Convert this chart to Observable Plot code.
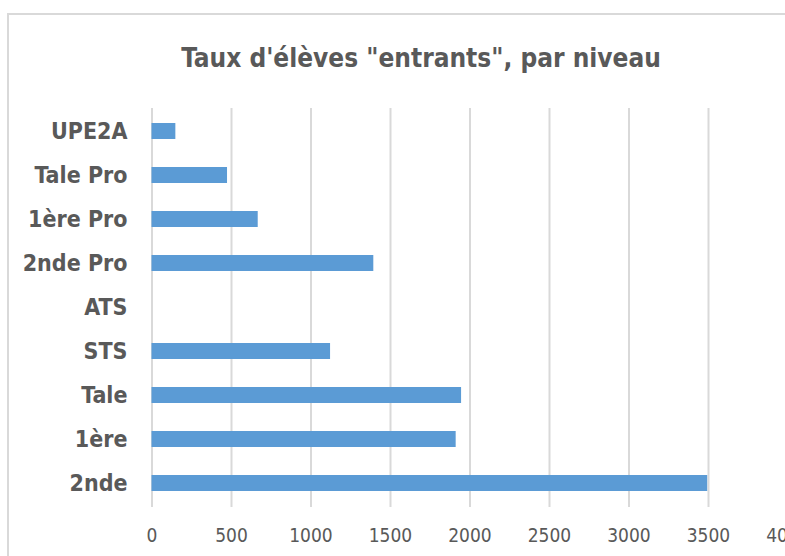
<!DOCTYPE html>
<html>
<head>
<meta charset="utf-8">
<script src="https://cdn.jsdelivr.net/npm/d3@7"></script>
<script src="https://cdn.jsdelivr.net/npm/@observablehq/plot@0.6"></script>
<style>
  html, body { margin: 0; padding: 0; background: #fff; overflow: hidden; }
  #wrap { position: relative; width: 785px; height: 556px; overflow: hidden; background: #fff; }
  #frame { position: absolute; left: 7px; top: 13px; width: 900px; height: 700px; border: 2px solid #d9d9d9; box-sizing: border-box; }
  #title { position: absolute; left: 8px; width: 826px; top: 43px; text-align: center;
           font-family: "DejaVu Sans Condensed", sans-serif; font-weight: bold;
           font-size: 26px; line-height: 1.2; color: #595959; }
  #chart { position: absolute; left: 0; top: 0; }
</style>
</head>
<body>
<div id="wrap">
  <div id="frame"></div>
  <div id="title">Taux d'élèves "entrants", par niveau</div>
  <div id="chart"></div>
</div>
<script>
const categories = ["UPE2A", "Tale Pro", "1ère Pro", "2nde Pro", "ATS", "STS", "Tale", "1ère", "2nde"];
const values = [150, 475, 668, 1395, 0, 1123, 1947, 1913, 3495];
const xTicks = [0, 500, 1000, 1500, 2000, 2500, 3000, 3500, 4000];

const data = categories.map((c, i) => ({niveau: c, valeur: values[i]}));

const chart = Plot.plot({
  width: 785,
  height: 556,
  marginTop: 108,
  marginBottom: 49,
  marginLeft: 151.5,
  marginRight: 0,
  style: {background: "transparent", color: "#595959", fontFamily: "'DejaVu Sans Condensed', sans-serif", overflow: "hidden"},
  x: {domain: [0, 4000], range: [151.5, 787.5]},
  y: {domain: categories, paddingInner: 0.63, paddingOuter: 0.315},
  marks: [
    Plot.ruleX(xTicks, {x: d => d, stroke: "#d9d9d9", strokeWidth: 2, strokeOpacity: 1}),
    Plot.barX(data, {y: "niveau", x: "valeur", fill: "#5b9bd5"}),
    Plot.axisX({ticks: xTicks, tickSize: 0, tickPadding: 21, fontSize: 19, label: null, tickFormat: d => String(d)}),
    Plot.axisY({tickSize: 0, tickPadding: 24.5, fontSize: 23, fontWeight: "bold", label: null})
  ]
});
document.getElementById("chart").appendChild(chart);
</script>
</body>
</html>
